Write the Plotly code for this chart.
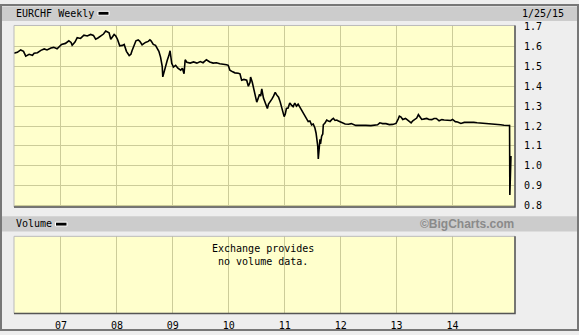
import plotly.graph_objects as go

# ---- data (decimal year, EURCHF weekly close) ----
years = [
    2006.16, 2006.22, 2006.28, 2006.33, 2006.37, 2006.43, 2006.49, 2006.52, 2006.58, 2006.64,
    2006.70, 2006.75, 2006.82, 2006.87, 2006.93, 2007.01, 2007.08, 2007.14, 2007.18, 2007.20,
    2007.25, 2007.29, 2007.35, 2007.41, 2007.47, 2007.53, 2007.58, 2007.62, 2007.66, 2007.71,
    2007.76, 2007.80, 2007.83, 2007.86, 2007.89, 2007.92, 2007.95, 2007.98, 2008.01, 2008.05,
    2008.10, 2008.13, 2008.17, 2008.22, 2008.25, 2008.27, 2008.31, 2008.34, 2008.38, 2008.41,
    2008.45, 2008.51, 2008.56, 2008.59, 2008.61, 2008.65, 2008.69, 2008.72, 2008.75, 2008.78,
    2008.81, 2008.82, 2008.84, 2008.87, 2008.90, 2008.93, 2008.95, 2008.98, 2009.01, 2009.05,
    2009.09, 2009.14, 2009.17, 2009.20, 2009.22, 2009.25, 2009.31, 2009.37, 2009.43, 2009.49,
    2009.54, 2009.60, 2009.66, 2009.72, 2009.78, 2009.84, 2009.90, 2009.96, 2009.99, 2010.02,
    2010.07, 2010.11, 2010.17, 2010.20, 2010.23, 2010.27, 2010.32, 2010.35, 2010.38, 2010.39,
    2010.42, 2010.44, 2010.47, 2010.50, 2010.52, 2010.55, 2010.57, 2010.59, 2010.62, 2010.65,
    2010.67, 2010.69, 2010.71, 2010.74, 2010.77, 2010.80, 2010.83, 2010.86, 2010.89, 2010.92,
    2010.95, 2010.98, 2010.99, 2011.01, 2011.03, 2011.06, 2011.09, 2011.12, 2011.15, 2011.18,
    2011.21, 2011.24, 2011.26, 2011.29, 2011.32, 2011.36, 2011.39, 2011.42, 2011.45, 2011.48,
    2011.51, 2011.54, 2011.56, 2011.57, 2011.59, 2011.60, 2011.62, 2011.63, 2011.64, 2011.66,
    2011.68, 2011.69, 2011.72, 2011.75, 2011.78, 2011.81, 2011.84, 2011.87, 2011.90, 2011.93,
    2011.96, 2011.99, 2012.03, 2012.08, 2012.14, 2012.19, 2012.27, 2012.36, 2012.45, 2012.54,
    2012.63, 2012.66, 2012.70, 2012.75, 2012.81, 2012.87, 2012.93, 2012.99, 2013.03, 2013.05,
    2013.08, 2013.11, 2013.16, 2013.20, 2013.23, 2013.26, 2013.29, 2013.32, 2013.36, 2013.39,
    2013.42, 2013.45, 2013.50, 2013.54, 2013.58, 2013.63, 2013.67, 2013.71, 2013.76, 2013.81,
    2013.85, 2013.91, 2013.97, 2014.00, 2014.05, 2014.09, 2014.15, 2014.21, 2014.27, 2014.33,
    2014.38, 2014.44, 2014.50, 2014.56, 2014.62, 2014.68, 2014.74, 2014.80, 2014.86, 2014.92,
    2014.98, 2015.02, 2015.025, 2015.03, 2015.033, 2015.036, 2015.039, 2015.042, 2015.045,
]
closes = [
    1.566, 1.570, 1.582, 1.575, 1.551, 1.560, 1.555, 1.566, 1.568, 1.580,
    1.587, 1.582, 1.592, 1.595, 1.588, 1.610, 1.615, 1.628, 1.620, 1.606,
    1.622, 1.644, 1.640, 1.656, 1.652, 1.660, 1.655, 1.636, 1.642, 1.650,
    1.662, 1.677, 1.672, 1.668, 1.636, 1.650, 1.660, 1.652, 1.636, 1.603,
    1.605, 1.610, 1.575, 1.554, 1.560, 1.578, 1.605, 1.628, 1.632, 1.625,
    1.608, 1.620, 1.625, 1.633, 1.628, 1.610, 1.605, 1.592, 1.575, 1.546,
    1.500, 1.447, 1.470, 1.496, 1.530, 1.555, 1.578, 1.515, 1.496, 1.505,
    1.490, 1.480, 1.490, 1.463, 1.533, 1.520, 1.516, 1.522, 1.516, 1.524,
    1.518, 1.533, 1.522, 1.516, 1.518, 1.513, 1.512, 1.508, 1.505, 1.480,
    1.472, 1.467, 1.465, 1.462, 1.430, 1.434, 1.430, 1.400, 1.420, 1.446,
    1.420, 1.394, 1.360, 1.320, 1.335, 1.360, 1.350, 1.386, 1.340, 1.320,
    1.300, 1.288, 1.310, 1.320, 1.335, 1.350, 1.369, 1.355, 1.345, 1.320,
    1.288, 1.270, 1.247, 1.260, 1.288, 1.290, 1.316, 1.305, 1.297, 1.315,
    1.300, 1.310, 1.300, 1.288, 1.275, 1.255, 1.240, 1.222, 1.225, 1.206,
    1.210, 1.190, 1.165, 1.149, 1.100, 1.034, 1.090, 1.133, 1.110, 1.149,
    1.160, 1.206, 1.215, 1.230, 1.225, 1.222, 1.232, 1.238, 1.228, 1.230,
    1.225, 1.222, 1.215, 1.210, 1.209, 1.212, 1.203, 1.204, 1.203, 1.202,
    1.204, 1.206, 1.216, 1.212, 1.212, 1.207, 1.208, 1.213, 1.236, 1.250,
    1.245, 1.233, 1.238, 1.230, 1.220, 1.216, 1.226, 1.233, 1.240, 1.257,
    1.245, 1.233, 1.236, 1.238, 1.233, 1.232, 1.238, 1.238, 1.226, 1.232,
    1.230, 1.230, 1.228, 1.233, 1.222, 1.220, 1.213, 1.218, 1.219, 1.220,
    1.218, 1.216, 1.215, 1.214, 1.210, 1.210, 1.208, 1.208, 1.206, 1.204,
    1.204, 1.203, 0.853, 1.000, 0.976, 1.025, 0.980, 1.020, 1.050,
]

year_ticks = [2007, 2008, 2009, 2010, 2011, 2012, 2013, 2014]
year_labels = ["07", "08", "09", "10", "11", "12", "13", "14"]
price_ticks = [0.8, 0.9, 1.0, 1.1, 1.2, 1.3, 1.4, 1.5, 1.6, 1.7]
price_labels = ["0.8", "0.9", "1.0", "1.1", "1.2", "1.3", "1.4", "1.5", "1.6", "1.7"]

W, H = 579, 335
def px(x):
    return x / W
def py(y):
    return 1 - y / H

MONO = "DejaVu Sans Mono"
GRID = "#cccc99"
BG = "#ffffcc"

fig = go.Figure()
fig.add_trace(go.Scatter(x=years, y=closes, mode="lines",
                         line=dict(color="black", width=1.6),
                         xaxis="x", yaxis="y", showlegend=False, hoverinfo="skip"))
# empty volume panel
fig.add_trace(go.Scatter(x=[2007], y=[0], mode="markers", marker=dict(opacity=0),
                         xaxis="x2", yaxis="y2", showlegend=False, hoverinfo="skip"))

xrange = [2006.160, 2015.117]
fig.update_layout(
    width=W, height=H, margin=dict(l=0, r=0, t=0, b=0),
    paper_bgcolor="#eeeeee", plot_bgcolor=BG,
    font=dict(family=MONO, size=9, color="black"),
    xaxis=dict(domain=[px(14), px(515)], range=xrange, anchor="y",
               tickvals=year_ticks, ticktext=year_labels, showticklabels=False,
               showgrid=True, gridcolor=GRID, gridwidth=1, zeroline=False,
               showline=False, ticks=""),
    yaxis=dict(domain=[py(208), py(22)], range=[0.793, 1.705], side="right",
               anchor="x", tickvals=price_ticks, ticktext=price_labels,
               showgrid=True, gridcolor=GRID, gridwidth=1, zeroline=False,
               ticks="outside", ticklen=6, tickcolor="rgba(0,0,0,0)",
               tickfont=dict(family=MONO, size=10)),
    xaxis2=dict(domain=[px(14), px(515)], range=xrange, anchor="y2",
                tickvals=year_ticks, ticktext=year_labels,
                showgrid=True, gridcolor=GRID, gridwidth=1, zeroline=False,
                ticks="outside", ticklen=3, tickcolor="rgba(0,0,0,0)",
                tickfont=dict(family=MONO, size=10)),
    yaxis2=dict(domain=[py(317), py(238)], range=[0, 1], anchor="x2",
                showgrid=False, showticklabels=False, zeroline=False, ticks=""),
)

shapes = []
# outer frame
shapes.append(dict(type="rect", xref="paper", yref="paper", x0=px(1), x1=px(578),
                   y0=py(334), y1=py(1), line=dict(color="#777777", width=2),
                   fillcolor="rgba(0,0,0,0)", layer="above"))
# header bars
for (t, b) in [(2.5, 17.5), (217.5, 233)]:
    shapes.append(dict(type="rect", xref="paper", yref="paper", x0=px(2), x1=px(577),
                       y0=py(b), y1=py(t), line=dict(width=0), fillcolor="#cccccc",
                       layer="below"))
# plot borders
for (t, b) in [(22, 208), (238, 317)]:
    shapes.append(dict(type="rect", xref="paper", yref="paper", x0=px(14), x1=px(515),
                       y0=py(b), y1=py(t), line=dict(color="#bbbbbb", width=1),
                       fillcolor="rgba(0,0,0,0)", layer="above"))
    shapes.append(dict(type="path", xref="paper", yref="paper",
                       path=f"M {px(14)} {py(b)} L {px(515)} {py(b)} L {px(515)} {py(t)}",
                       line=dict(color="#555555", width=1.5), layer="above"))
# legend swatches
for (x0, x1, y0, y1) in [(98, 109, 7.5, 11.5), (55.5, 67, 223.5, 227.5)]:
    shapes.append(dict(type="rect", xref="paper", yref="paper", x0=px(x0), x1=px(x1),
                       y0=py(y1), y1=py(y0), line=dict(color="white", width=1),
                       fillcolor="black", layer="above"))
fig.update_layout(shapes=shapes)

ann = []
def txt(x, y, s, anchor="left", size=10, color="black", family=MONO):
    ann.append(dict(x=px(x), y=py(y), xref="paper", yref="paper", text=s, showarrow=False,
                    xanchor=anchor, yanchor="middle", font=dict(family=family, size=size, color=color)))
txt(14, 10, "EURCHF Weekly")
txt(566, 10, "1/25/15", anchor="right")
txt(14, 225, "Volume")
txt(516, 225, "<b>©BigCharts.com</b>", anchor="right", size=12, color="#8a8a8a",
    family="Liberation Sans")
txt(263, 257.5, "Exchange provides<br>no volume data.", anchor="center")
fig.update_layout(annotations=ann)

fig.write_html("out.html")
